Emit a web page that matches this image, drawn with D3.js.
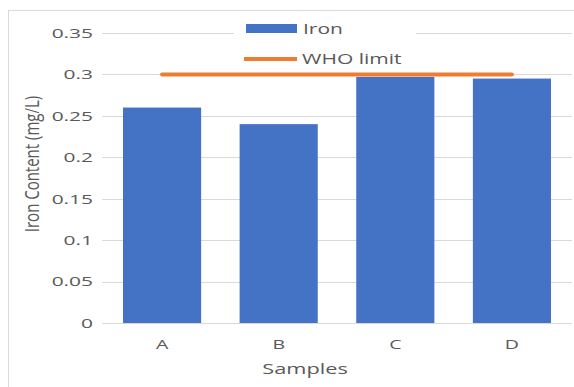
<!DOCTYPE html>
<html>
<head>
<meta charset="utf-8">
<script src="https://cdn.jsdelivr.net/npm/d3@7"></script>
<style>
  html, body { margin: 0; padding: 0; background: #fff; }
  svg { display: block; font-family: "Open Sans", "Noto Sans", sans-serif; }
</style>
</head>
<body>
<div id="chart"></div>
<script>
const samples = ["A", "B", "C", "D"];
const ironValues = [0.26, 0.24, 0.297, 0.295];
const whoLimit = [0.3, 0.3, 0.3, 0.3];
const yTicks = [0, 0.05, 0.1, 0.15, 0.2, 0.25, 0.3, 0.35];

const width = 574, height = 387;
const margin = { top: 33, right: 2, bottom: 64, left: 102 };
const stretch = 1.45; // the reference text is wide

const svg = d3.select("#chart")
    .append("svg")
    .attr("width", width)
    .attr("height", height);

// chart frame
svg.append("rect")
    .attr("x", 8.5).attr("y", 10.5)
    .attr("width", 600).attr("height", 400)
    .attr("fill", "#fff")
    .attr("stroke", "#d9d9d9");

const x = d3.scaleBand()
    .domain(samples)
    .range([margin.left, width - margin.right])
    .paddingInner(0.33)
    .paddingOuter(0.18);

const y = d3.scaleLinear()
    .domain([0, 0.35])
    .range([height - margin.bottom, margin.top]);

// gridlines
svg.append("g")
    .selectAll("line")
    .data(yTicks)
    .enter()
    .append("line")
    .attr("x1", margin.left)
    .attr("x2", width - margin.right)
    .attr("y1", d => Math.round(y(d)) + 0.5)
    .attr("y2", d => Math.round(y(d)) + 0.5)
    .attr("stroke", "#d9d9d9")
    .attr("stroke-width", 1);

// y axis labels
const yAxis = d3.axisLeft(y)
    .tickValues(yTicks)
    .tickFormat(d => d3.format("")(+d.toFixed(2)))
    .tickSize(0)
    .tickPadding(0);

svg.append("g")
    .attr("transform", `translate(${margin.left},0)`)
    .call(yAxis)
    .call(g => g.select(".domain").remove())
    .selectAll("text")
    .attr("x", -9 / 1.55)
    .attr("transform", "scale(1.55,1)")
    .attr("font-size", "13.5px")
    .attr("font-family", "Open Sans, sans-serif")
    .attr("fill", "#595959");

// bars
svg.append("g")
    .selectAll("rect")
    .data(samples)
    .enter()
    .append("rect")
    .attr("x", d => x(d))
    .attr("y", (d, i) => y(ironValues[i]))
    .attr("width", x.bandwidth())
    .attr("height", (d, i) => y(0) - y(ironValues[i]))
    .attr("fill", "#4472c4");

// x axis labels
const xAxis = d3.axisBottom(x).tickSize(0).tickPadding(16);
svg.append("g")
    .attr("transform", `translate(0,${y(0)})`)
    .call(xAxis)
    .call(g => g.select(".domain").remove())
    .selectAll("text")
    .attr("transform", `scale(${stretch},1)`)
    .attr("font-size", "13.5px")
    .attr("font-family", "Open Sans, sans-serif")
    .attr("fill", "#595959");

// legend box (covers the top gridline)
svg.append("rect")
    .attr("x", 234).attr("y", 14)
    .attr("width", 182).attr("height", 57)
    .attr("fill", "#fff");

svg.append("rect")
    .attr("x", 246).attr("y", 24)
    .attr("width", 51).attr("height", 9)
    .attr("fill", "#4472c4");
svg.append("text")
    .attr("transform", `translate(303,29) scale(${stretch},1)`)
    .attr("dy", "0.35em")
    .attr("font-size", "14.5px")
    .attr("fill", "#595959")
    .text("Iron");

svg.append("line")
    .attr("x1", 244).attr("x2", 297)
    .attr("y1", 59).attr("y2", 59)
    .attr("stroke", "#ed7d31")
    .attr("stroke-width", 4);
svg.append("text")
    .attr("transform", `translate(302,59) scale(${stretch},1)`)
    .attr("dy", "0.35em")
    .attr("font-size", "14.5px")
    .attr("fill", "#595959")
    .text("WHO limit");

// WHO limit line
const line = d3.line()
    .x((d, i) => x(samples[i]) + x.bandwidth() / 2)
    .y(d => y(d));

svg.append("path")
    .datum(whoLimit)
    .attr("d", line)
    .attr("fill", "none")
    .attr("stroke", "#ed7d31")
    .attr("stroke-width", 4)
    .attr("stroke-linecap", "round");

// axis titles
svg.append("text")
    .attr("transform", `translate(305,369) scale(${stretch},1)`)
    .attr("dy", "0.35em")
    .attr("text-anchor", "middle")
    .attr("font-size", "15px")
    .attr("fill", "#595959")
    .text("Samples");

svg.append("text")
    .attr("transform", "translate(32,164) scale(1.35,1) rotate(-90)")
    .attr("dy", "0.35em")
    .attr("text-anchor", "middle")
    .attr("font-size", "15px")
    .attr("fill", "#595959")
    .text("Iron Content (mg/L)");
</script>
</body>
</html>
